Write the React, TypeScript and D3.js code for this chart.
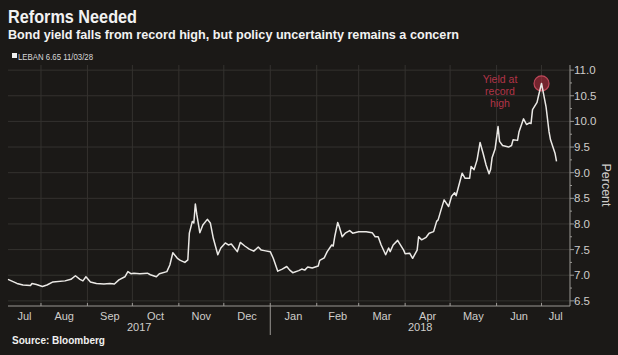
import React from "react";
import * as d3 from "d3";

const W = 618;
const H = 355;

const dates: string[] = [
  "2017-07-10","2017-07-16","2017-07-20","2017-07-25","2017-07-26","2017-07-29","2017-08-02","2017-08-05","2017-08-09","2017-08-17",
  "2017-08-21","2017-08-24","2017-08-27","2017-08-29","2017-08-31","2017-09-03","2017-09-07","2017-09-12","2017-09-16","2017-09-19",
  "2017-09-22","2017-09-26","2017-09-28","2017-09-30","2017-10-02","2017-10-06","2017-10-11","2017-10-13","2017-10-17","2017-10-19",
  "2017-10-24","2017-10-26","2017-10-28","2017-10-31","2017-11-02","2017-11-05","2017-11-07","2017-11-08","2017-11-10","2017-11-11",
  "2017-11-12","2017-11-13","2017-11-15","2017-11-17","2017-11-20","2017-11-22","2017-11-24","2017-11-27","2017-11-29","2017-12-02",
  "2017-12-04","2017-12-06","2017-12-10","2017-12-12","2017-12-15","2017-12-18","2017-12-21","2017-12-24","2017-12-26","2017-12-28",
  "2018-01-01","2018-01-03","2018-01-06","2018-01-09","2018-01-12","2018-01-14","2018-01-16","2018-01-20","2018-01-22","2018-01-24",
  "2018-01-26","2018-01-29","2018-01-31","2018-02-02","2018-02-03","2018-02-06","2018-02-08","2018-02-11","2018-02-12","2018-02-13",
  "2018-02-15","2018-02-16","2018-02-18","2018-02-20","2018-02-23","2018-02-25","2018-03-01","2018-03-06","2018-03-10","2018-03-12",
  "2018-03-14","2018-03-16","2018-03-19","2018-03-21","2018-03-22","2018-03-24","2018-03-27","2018-03-28","2018-03-31","2018-04-01",
  "2018-04-04","2018-04-06","2018-04-09","2018-04-10","2018-04-12","2018-04-15","2018-04-17","2018-04-20","2018-04-22","2018-04-23",
  "2018-04-25","2018-04-27","2018-04-30","2018-05-02","2018-05-04","2018-05-05","2018-05-09","2018-05-11","2018-05-14","2018-05-15",
  "2018-05-17","2018-05-19","2018-05-21","2018-05-23","2018-05-25","2018-05-27","2018-05-28","2018-05-29","2018-05-31","2018-06-02",
  "2018-06-03","2018-06-05","2018-06-09","2018-06-11","2018-06-12","2018-06-15","2018-06-16","2018-06-19","2018-06-21","2018-06-23",
  "2018-06-24","2018-06-25","2018-06-28","2018-06-29","2018-07-01","2018-07-02","2018-07-04","2018-07-06","2018-07-07","2018-07-10",
  "2018-07-11"
];

const yields: number[] = [
  6.92,6.84,6.81,6.80,6.84,6.82,6.78,6.81,6.87,6.89,
  6.92,6.99,6.92,6.89,6.97,6.87,6.84,6.83,6.84,6.83,
  6.91,6.97,7.07,7.03,7.04,7.03,7.04,7.01,6.97,7.03,
  7.07,7.20,7.44,7.33,7.29,7.25,7.30,7.82,8.05,8.02,
  8.39,8.18,7.83,7.98,8.09,8.02,7.72,7.40,7.53,7.63,
  7.59,7.61,7.46,7.64,7.57,7.51,7.47,7.55,7.49,7.48,
  7.46,7.33,7.08,7.12,7.17,7.10,7.05,7.09,7.12,7.10,
  7.16,7.14,7.16,7.18,7.29,7.34,7.46,7.59,7.57,7.75,
  8.03,7.95,7.75,7.82,7.87,7.82,7.85,7.85,7.83,7.75,
  7.75,7.59,7.40,7.53,7.46,7.59,7.68,7.63,7.49,7.42,
  7.43,7.33,7.49,7.75,7.69,7.74,7.82,7.85,8.05,8.08,
  8.28,8.47,8.34,8.54,8.61,8.55,8.99,8.89,8.89,9.12,
  9.06,9.25,9.59,9.38,9.15,8.98,9.06,9.29,9.46,9.90,
  9.61,9.53,9.50,9.53,9.64,9.63,9.80,10.05,9.94,9.97,
  9.96,10.23,10.37,10.50,10.74,10.59,10.29,9.80,9.64,9.38,
  9.22
];

const yTicks: number[] = [6.5, 7.0, 7.5, 8.0, 8.5, 9.0, 9.5, 10.0, 10.5, 11.0];
const monthStarts: string[] = [
  "2017-08-01","2017-09-01","2017-10-01","2017-11-01","2017-12-01","2018-01-01",
  "2018-02-01","2018-03-01","2018-04-01","2018-05-01","2018-06-01","2018-07-01"
];
const monthLabels: string[] = ["Jul","Aug","Sep","Oct","Nov","Dec","Jan","Feb","Mar","Apr","May","Jun","Jul"];
const yearLabels: string[] = ["2017", "2018"];
const yearBreak = "2018-01-01";
const peakDate = "2018-07-01";
const peakValue = 10.74;
const annotationLines: string[] = ["Yield at", "record", "high"];

const title = "Reforms Needed";
const subtitle = "Bond yield falls from record high, but policy uncertainty remains a concern";
const legendText = "LEBAN 6.65 11/03/28";
const sourceText = "Source: Bloomberg";
const yAxisTitle = "Percent";

const parse = d3.timeParse("%Y-%m-%d");

export default function App() {
  const left = 8, right = 570, top = 65, bottom = 306;
  const x = d3.scaleTime()
    .domain([parse("2017-07-10")!, parse("2018-07-20")!])
    .range([left, right]);
  const y = d3.scaleLinear().domain([6.4, 11.1]).range([bottom, top]);

  const data = dates.map((d, i) => ({ date: parse(d)!, v: yields[i] }));
  const line = d3.line<{ date: Date; v: number }>()
    .x((d) => x(d.date))
    .y((d) => y(d.v));

  const mDates = monthStarts.map((m) => parse(m)!);
  const bounds = [left, ...mDates.map((d) => x(d)), right];
  const minorTicks = d3.range(6.5, 11.01, 0.25).filter((v) => Math.abs((v * 2) % 1) > 0.01);
  const xb = x(parse(yearBreak)!);
  const px = x(parse(peakDate)!);
  const py = y(peakValue);

  const bg = "#1b1917";
  const grid = "#34322f";
  const axisCol = "#9a9894";
  const textCol = "#cfcdca";
  const red = "#b23447";
  const font = "'Liberation Sans', Arial, sans-serif";

  return (
    <div style={{ position: "absolute", left: 0, top: 0 }}>
      <svg width={W} height={H} style={{ display: "block", background: bg }} fontFamily={font}>
        <rect x={0} y={0} width={W} height={H} fill={bg} />
        <text x={8} y={23} fill="#f2f2f2" fontSize={18} fontWeight="bold" textLength={129} lengthAdjust="spacingAndGlyphs">{title}</text>
        <text x={8} y={39} fill="#f2f2f2" fontSize={13} fontWeight="bold" textLength={451} lengthAdjust="spacingAndGlyphs">{subtitle}</text>
        <rect x={12} y={53} width={5} height={5} fill="#f0f0f0" />
        <text x={18} y={60} fill="#d8d8d8" fontSize={9} textLength={75} lengthAdjust="spacingAndGlyphs">{legendText}</text>

        {/* gridlines */}
        {yTicks.map((t) => (
          <line key={"gy" + t} x1={left} x2={right} y1={y(t)} y2={y(t)} stroke={grid} strokeWidth={1} />
        ))}
        {mDates.map((d, i) => (
          <line key={"gx" + i} x1={x(d)} x2={x(d)} y1={top} y2={bottom} stroke={grid} strokeWidth={1} />
        ))}

        {/* annotation circle */}
        <circle cx={px} cy={py} r={7.5} fill="rgba(190,45,65,0.55)" stroke="#c0485a" strokeWidth={1.2} />

        {/* data line */}
        <path d={line(data) ?? ""} fill="none" stroke="#ebe9e6" strokeWidth={1.5} strokeLinejoin="round" />

        {annotationLines.map((s, i) => (
          <text key={"an" + i} x={500} y={83 + i * 12} fill={red} fontSize={10.5} textAnchor="middle">{s}</text>
        ))}

        {/* y axis */}
        <line x1={right} x2={right} y1={top} y2={bottom} stroke={axisCol} strokeWidth={1} />
        {yTicks.map((t) => (
          <g key={"yt" + t}>
            <line x1={right} x2={right + 4} y1={y(t)} y2={y(t)} stroke={axisCol} />
            <text x={574} y={y(t) + 4} fill={textCol} fontSize={11.5}>{t.toFixed(1)}</text>
          </g>
        ))}
        {minorTicks.map((t) => (
          <line key={"ym" + t} x1={right} x2={right + 2} y1={y(t)} y2={y(t)} stroke={axisCol} />
        ))}
        <text transform={`translate(602,185) rotate(90)`} fill={textCol} fontSize={12.5} textAnchor="middle">{yAxisTitle}</text>

        {/* x axis */}
        <line x1={left} x2={right} y1={bottom} y2={bottom} stroke={axisCol} strokeWidth={1} />
        {mDates.map((d, i) => (
          <line key={"xt" + i} x1={x(d)} x2={x(d)} y1={bottom} y2={bottom - 3} stroke={axisCol} />
        ))}
        {monthLabels.map((m, i) => (
          <text key={"ml" + i} x={(bounds[i] + bounds[i + 1]) / 2} y={320} fill={textCol} fontSize={11} textAnchor="middle">{m}</text>
        ))}
        <line x1={xb} x2={xb} y1={bottom} y2={335} stroke={axisCol} strokeWidth={1} />
        <text x={(left + xb) / 2} y={331} fill={textCol} fontSize={11} textAnchor="middle">{yearLabels[0]}</text>
        <text x={(xb + right) / 2} y={331} fill={textCol} fontSize={11} textAnchor="middle">{yearLabels[1]}</text>

        <text x={12} y={344} fill="#f0f0f0" fontSize={10} fontWeight="bold" textLength={93} lengthAdjust="spacingAndGlyphs">{sourceText}</text>
      </svg>
    </div>
  );
}
